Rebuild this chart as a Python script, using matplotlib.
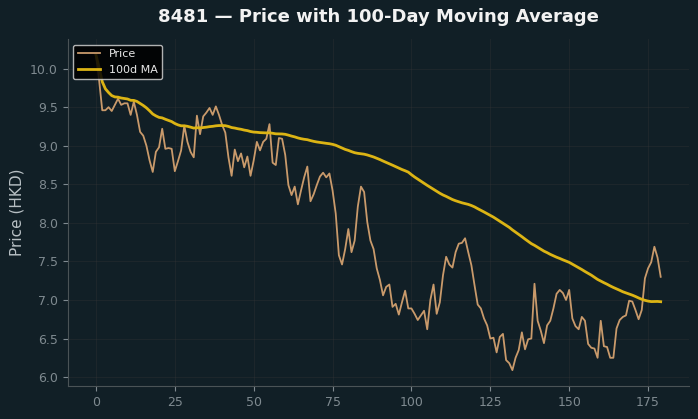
import numpy as np
import pandas as pd
import matplotlib
matplotlib.use("Agg")
import matplotlib.pyplot as plt

ticker = "8481"
window = 100

# daily closing prices (day 0 .. 179)
price = [
    10.18, 9.85, 9.46, 9.46, 9.50, 9.45, 9.53, 9.61, 9.53, 9.55,
    9.55, 9.40, 9.57, 9.40, 9.18, 9.13, 9.00, 8.81, 8.66, 8.92,
    8.98, 9.22, 8.96, 8.97, 8.96, 8.67, 8.80, 8.94, 9.26, 9.05,
    8.92, 8.85, 9.39, 9.15, 9.38, 9.43, 9.49, 9.40, 9.51, 9.40,
    9.27, 9.17, 8.85, 8.61, 8.95, 8.80, 8.90, 8.72, 8.86, 8.61,
    8.81, 9.05, 8.94, 9.05, 9.09, 9.28, 8.78, 8.75, 9.10, 9.09,
    8.88, 8.49, 8.36, 8.47, 8.24, 8.42, 8.59, 8.73, 8.28, 8.37,
    8.49, 8.60, 8.65, 8.59, 8.64, 8.42, 8.12, 7.58, 7.46, 7.66,
    7.92, 7.62, 7.77, 8.21, 8.47, 8.40, 8.01, 7.77, 7.66, 7.41,
    7.26, 7.06, 7.17, 7.20, 6.91, 6.95, 6.81, 6.97, 7.12, 6.89,
    6.89, 6.82, 6.74, 6.80, 6.86, 6.62, 7.00, 7.20, 6.82, 6.97,
    7.32, 7.56, 7.46, 7.42, 7.62, 7.73, 7.74, 7.80, 7.62, 7.45,
    7.19, 6.94, 6.89, 6.76, 6.67, 6.50, 6.51, 6.32, 6.52, 6.56,
    6.22, 6.18, 6.09, 6.25, 6.35, 6.58, 6.36, 6.49, 6.50, 7.21,
    6.73, 6.60, 6.44, 6.67, 6.73, 6.89, 7.08, 7.13, 7.09, 7.00,
    7.13, 6.76, 6.66, 6.62, 6.78, 6.73, 6.43, 6.38, 6.37, 6.25,
    6.73, 6.40, 6.39, 6.25, 6.25, 6.63, 6.74, 6.78, 6.80, 6.99,
    6.98, 6.87, 6.75, 6.87, 7.28, 7.41, 7.49, 7.69, 7.55, 7.30,
]

s = pd.Series(price)
ma = s.rolling(window, min_periods=1).mean()
days = np.arange(len(price))

bg = "#111f26"
fig = plt.figure(figsize=(6.98, 4.19), dpi=100, facecolor=bg)
ax = fig.add_axes([0.097, 0.079, 0.89, 0.828])
ax.set_facecolor(bg)

ax.plot(days, s, color="#c99a6b", lw=1.3, label="Price")
ax.plot(days, ma, color="#dcb414", lw=2.0, label=f"{window}d MA")

ax.set_title(f"{ticker} — Price with {window}-Day Moving Average",
             color="#f2f2f2", fontsize=13, fontweight="bold", pad=12)
ax.set_ylabel("Price (HKD)", color="#b8c0c4", fontsize=11)

ax.grid(True, color="#3a3a3a", alpha=0.3, lw=0.7)
ax.tick_params(colors="#7f8a90", labelsize=9)
for side in ("top", "right"):
    ax.spines[side].set_visible(False)
for side in ("left", "bottom"):
    ax.spines[side].set_color("#4a5356")

leg = ax.legend(loc="upper left", fontsize=8, facecolor="black",
                edgecolor="#cfcfcf", framealpha=0.85)
for t in leg.get_texts():
    t.set_color("#e8e8e8")

fig.savefig("out.png", dpi=100, facecolor=bg)
